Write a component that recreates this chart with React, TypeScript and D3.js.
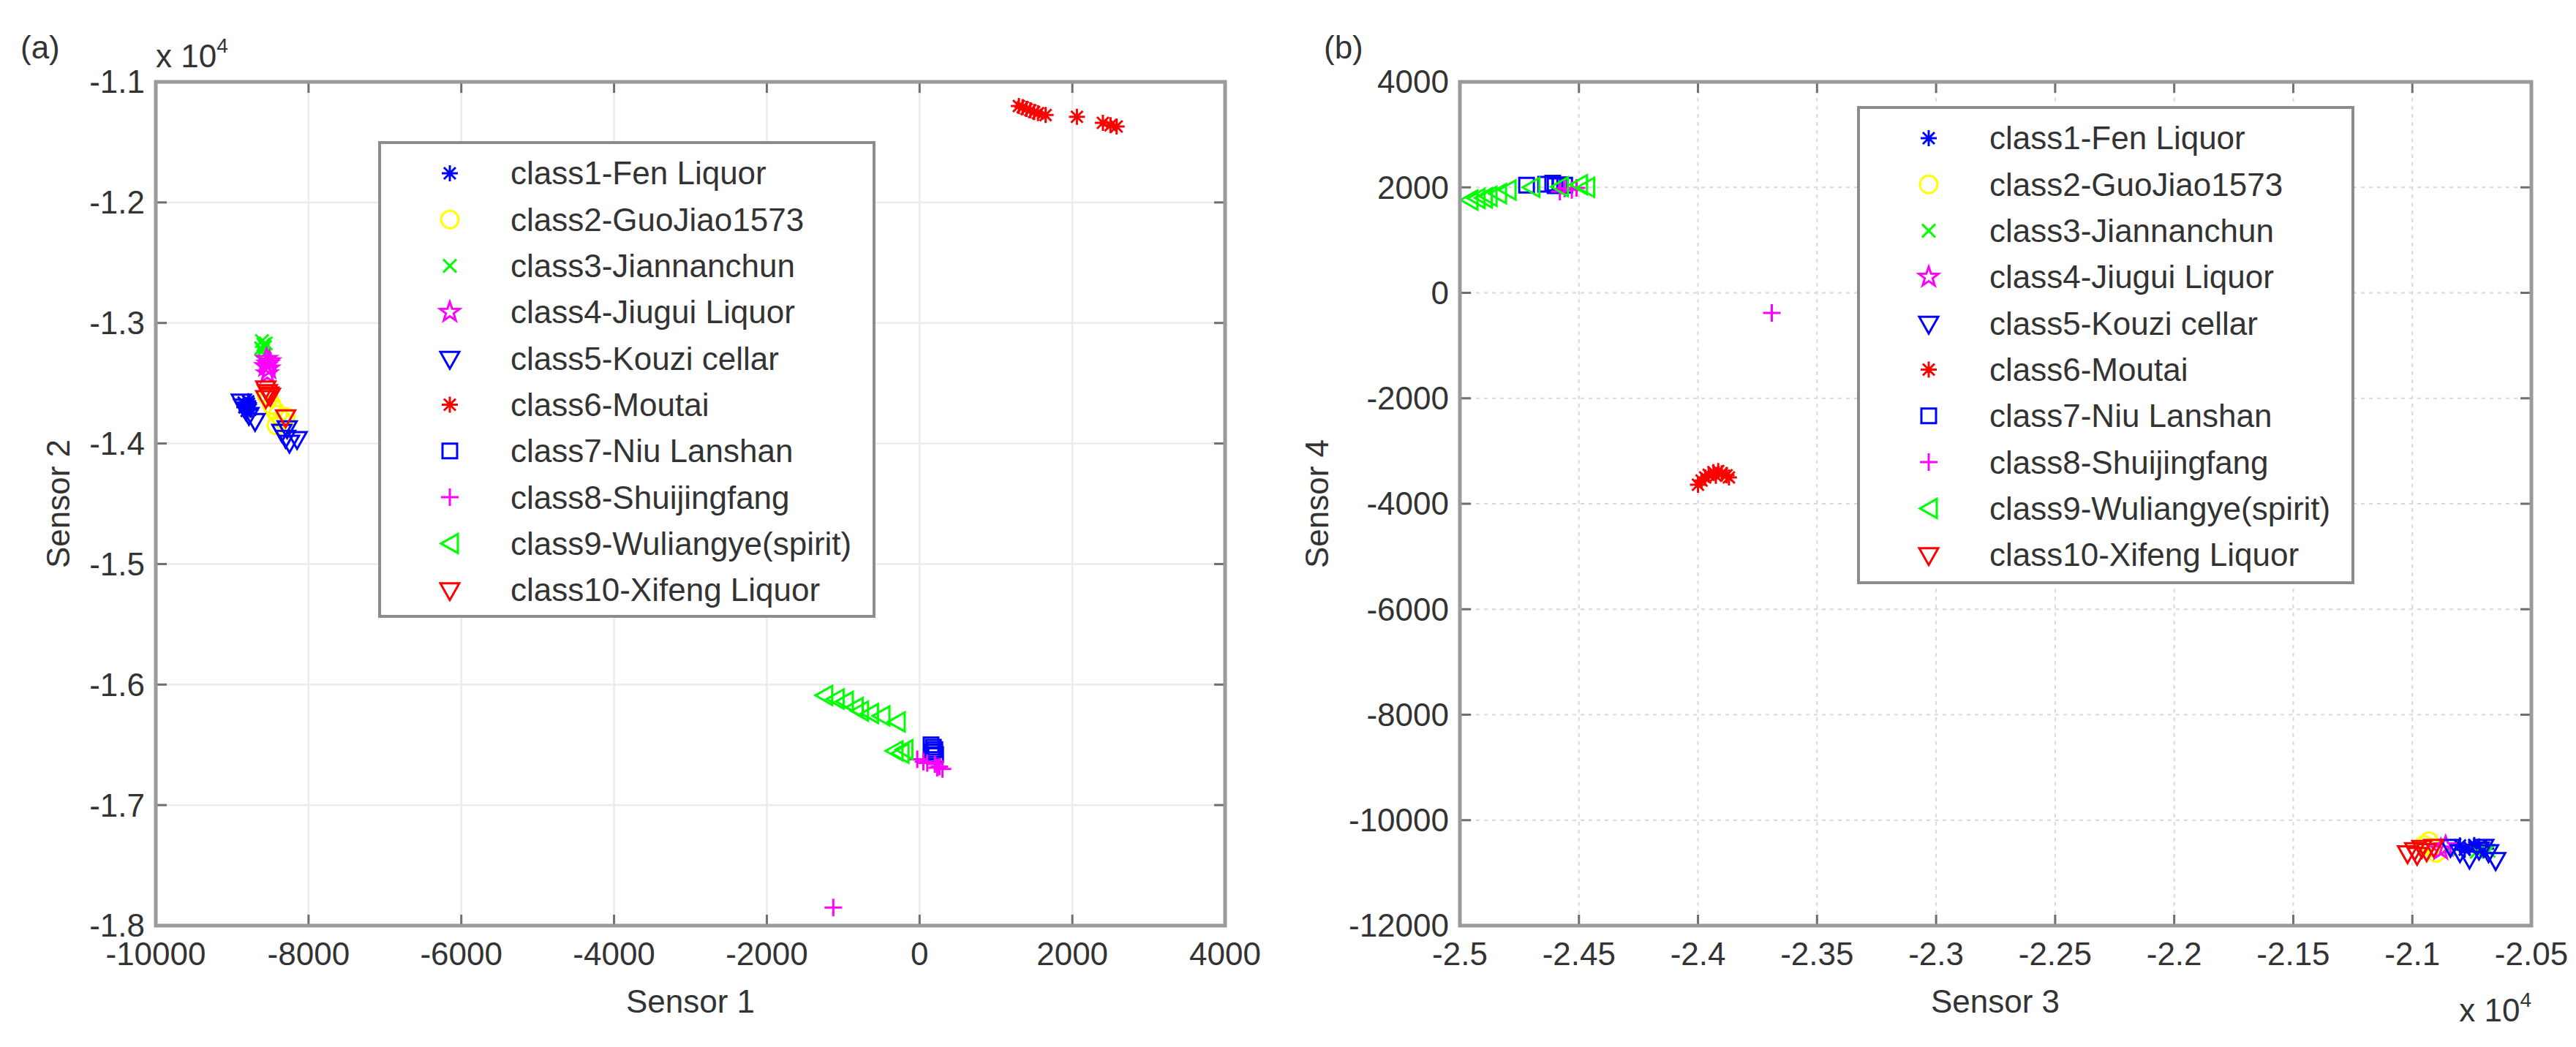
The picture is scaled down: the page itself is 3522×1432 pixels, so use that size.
import React from "react";
import * as d3 from "d3";

// class names and marker styles (MATLAB-like)
const classNames = [
  "class1-Fen Liquor",
  "class2-GuoJiao1573",
  "class3-Jiannanchun",
  "class4-Jiugui Liquor",
  "class5-Kouzi cellar",
  "class6-Moutai",
  "class7-Niu Lanshan",
  "class8-Shuijingfang",
  "class9-Wuliangye(spirit)",
  "class10-Xifeng Liquor",
];
const classMarkers = ["asterisk", "circle", "x", "pentagram", "triDown", "asterisk", "square", "plus", "triLeft", "triDown"];
const classColors = ["#0000ff", "#ffff00", "#00ff00", "#ff00ff", "#0000ff", "#ff0000", "#0000ff", "#ff00ff", "#00ff00", "#ff0000"];

// panel (a): Sensor 1 vs Sensor 2
const sensorA: number[][][] = [
  [[-8850, -13660], [-8820, -13680], [-8800, -13700], [-8780, -13670], [-8760, -13720], [-8840, -13700], [-8790, -13650], [-8810, -13730]],
  [[-8520, -13620], [-8480, -13680], [-8450, -13720], [-8400, -13760], [-8350, -13800], [-8300, -13780], [-8550, -13600], [-8420, -13850]],
  [[-8610, -13150], [-8590, -13180], [-8570, -13200], [-8600, -13230], [-8580, -13260], [-8560, -13170], [-8620, -13210]],
  [[-8550, -13300], [-8530, -13340], [-8520, -13380], [-8540, -13420], [-8560, -13360], [-8510, -13320]],
  [[-8880, -13650], [-8850, -13690], [-8820, -13720], [-8780, -13760], [-8700, -13810], [-8350, -13900], [-8300, -13950], [-8250, -13990], [-8150, -13960], [-8280, -13870]],
  [[1300, -11200], [1350, -11210], [1400, -11225], [1450, -11235], [1500, -11250], [1550, -11260], [1650, -11275], [2060, -11290], [2400, -11340], [2500, -11360], [2580, -11370]],
  [[150, -16500], [180, -16520], [200, -16540], [170, -16560], [210, -16580], [160, -16590]],
  [[-30, -16620], [50, -16640], [100, -16650], [200, -16660], [260, -16680], [300, -16700], [230, -16690], [-1130, -17850]],
  [[-1250, -16090], [-1100, -16120], [-980, -16140], [-850, -16190], [-780, -16220], [-650, -16240], [-500, -16260], [-300, -16310], [-330, -16550], [-250, -16570], [-200, -16540]],
  [[-8560, -13540], [-8540, -13570], [-8520, -13590], [-8560, -13620], [-8500, -13600], [-8300, -13780]],
];

// panel (b): Sensor 3 vs Sensor 4
const sensorB: number[][][] = [
  [[-20800, -10480], [-20760, -10520], [-20720, -10500], [-20690, -10540], [-20780, -10560], [-20740, -10470]],
  [[-20930, -10400], [-20920, -10520], [-20900, -10620], [-20950, -10470]],
  [[-20850, -10550], [-20730, -10600], [-20680, -10580]],
  [[-20880, -10560], [-20860, -10500]],
  [[-20840, -10500], [-20800, -10600], [-20760, -10720], [-20720, -10550], [-20680, -10600], [-20650, -10750], [-20700, -10500]],
  [[-24000, -3640], [-23985, -3560], [-23970, -3500], [-23955, -3450], [-23935, -3400], [-23915, -3380], [-23900, -3420], [-23880, -3460], [-23870, -3500], [-23925, -3470]],
  [[-24720, 2040], [-24640, 2060], [-24610, 2080], [-24580, 2050], [-24560, 2040], [-24600, 2030]],
  [[-24560, 1980], [-24530, 1950], [-24580, 1920], [-24510, 1990], [-23690, -380]],
  [[-24960, 1760], [-24930, 1790], [-24900, 1800], [-24880, 1830], [-24840, 1880], [-24800, 1950], [-24700, 2000], [-24580, 2010], [-24500, 2050], [-24470, 2000]],
  [[-21020, -10620], [-20990, -10560], [-20960, -10520], [-20940, -10580], [-20980, -10650], [-20910, -10500]],
];

const xTicksA = [-10000, -8000, -6000, -4000, -2000, 0, 2000, 4000];
const yTicksA = [-11000, -12000, -13000, -14000, -15000, -16000, -17000, -18000];
const xTicksB = [-25000, -24500, -24000, -23500, -23000, -22500, -22000, -21500, -21000, -20500];
const yTicksB = [4000, 2000, 0, -2000, -4000, -6000, -8000, -10000, -12000];

const FONT = "'Liberation Sans', Arial, Helvetica, sans-serif";
const TEXT = "#333";

const starPath = (() => {
  const pts: string[] = [];
  for (let i = 0; i < 10; i++) {
    const r = i % 2 === 0 ? 14 : 5.6;
    const a = -Math.PI / 2 + (i * Math.PI) / 5;
    pts.push(`${(r * Math.cos(a)).toFixed(2)},${(r * Math.sin(a)).toFixed(2)}`);
  }
  return "M" + pts.join("L") + "Z";
})();

const Marker = ({ kind, color, x, y }: { kind: string; color: string; x: number; y: number }) => {
  const common = { fill: "none", stroke: color, strokeWidth: 3, transform: `translate(${x},${y})` };
  switch (kind) {
    case "asterisk":
      return <path {...common} d="M-11,0H11M0,-11V11M-8,-8L8,8M-8,8L8,-8" />;
    case "circle":
      return <circle {...common} r={12} />;
    case "x":
      return <path {...common} d="M-9,-9L9,9M-9,9L9,-9" />;
    case "pentagram":
      return <path {...common} d={starPath} />;
    case "triDown":
      return <path {...common} d="M-13,-9L13,-9L0,14Z" />;
    case "square":
      return <path {...common} d="M-10,-10H10V10H-10Z" />;
    case "plus":
      return <path {...common} d="M-12,0H12M0,-12V12" />;
    case "triLeft":
      return <path {...common} d="M-12,0L11,-13L11,13Z" />;
    default:
      return null;
  }
};

type PanelProps = {
  box: { left: number; right: number; top: number; bottom: number };
  xDomain: [number, number];
  yDomain: [number, number];
  xTicks: number[];
  yTicks: number[];
  xFmt: (v: number) => string;
  yFmt: (v: number) => string;
  data: number[][][];
  dashedGrid: boolean;
  legend: { x: number; y: number; w: number; h: number };
};

const Panel = ({ box, xDomain, yDomain, xTicks, yTicks, xFmt, yFmt, data, dashedGrid, legend }: PanelProps) => {
  const x = d3.scaleLinear().domain(xDomain).range([box.left, box.right]);
  const y = d3.scaleLinear().domain(yDomain).range([box.bottom, box.top]);
  const gridStyle = dashedGrid
    ? { stroke: "#d9d9d9", strokeWidth: 2, strokeDasharray: "5,6" }
    : { stroke: "#ebebeb", strokeWidth: 2.5 };
  const tickLen = 15;
  const rowGap = 63.3;
  return (
    <g>
      {/* grid */}
      {xTicks.map((t) => (
        <line key={"gx" + t} x1={x(t)} x2={x(t)} y1={box.top} y2={box.bottom} {...gridStyle} />
      ))}
      {yTicks.map((t) => (
        <line key={"gy" + t} x1={box.left} x2={box.right} y1={y(t)} y2={y(t)} {...gridStyle} />
      ))}
      {/* points */}
      {data.map((pts, ci) =>
        pts.map((p, pi) => (
          <Marker key={ci + "-" + pi} kind={classMarkers[ci]} color={classColors[ci]} x={x(p[0])} y={y(p[1])} />
        ))
      )}
      {/* ticks */}
      {xTicks.map((t) => (
        <g key={"tx" + t} stroke="#6f6f6f" strokeWidth={3}>
          <line x1={x(t)} x2={x(t)} y1={box.bottom} y2={box.bottom - tickLen} />
          <line x1={x(t)} x2={x(t)} y1={box.top} y2={box.top + tickLen} />
        </g>
      ))}
      {yTicks.map((t) => (
        <g key={"ty" + t} stroke="#6f6f6f" strokeWidth={3}>
          <line x1={box.left} x2={box.left + tickLen} y1={y(t)} y2={y(t)} />
          <line x1={box.right} x2={box.right - tickLen} y1={y(t)} y2={y(t)} />
        </g>
      ))}
      <rect x={box.left} y={box.top} width={box.right - box.left} height={box.bottom - box.top} fill="none" stroke="#9a9a9a" strokeWidth={5} />
      {/* tick labels */}
      {xTicks.map((t) => (
        <text key={"lx" + t} x={x(t)} y={box.bottom + 54} textAnchor="middle" fontSize={44} fill={TEXT} fontFamily={FONT}>
          {xFmt(t)}
        </text>
      ))}
      {yTicks.map((t) => (
        <text key={"ly" + t} x={box.left - 15} y={y(t)} dy="0.35em" textAnchor="end" fontSize={44} fill={TEXT} fontFamily={FONT}>
          {yFmt(t)}
        </text>
      ))}
      {/* legend */}
      <rect x={legend.x} y={legend.y} width={legend.w} height={legend.h} fill="#fff" stroke="#8c8c8c" strokeWidth={4} />
      {classNames.map((name, i) => {
        const cy = legend.y + 42 + i * rowGap;
        return (
          <g key={name}>
            <Marker kind={classMarkers[i]} color={classColors[i]} x={legend.x + 96} y={cy} />
            <text x={legend.x + 179} y={cy} dy="0.35em" fontSize={44} fill={TEXT} fontFamily={FONT}>
              {name}
            </text>
          </g>
        );
      })}
    </g>
  );
};

const fmtA = (v: number) => String(v);
const fmtE4 = (v: number) => String(+(v / 1e4).toFixed(2));

export default function App() {
  return (
    <svg width={3522} height={1432} style={{ position: "absolute", left: 0, top: 0, background: "#fff" }}>
      <rect width={3522} height={1432} fill="#fff" />
      <Panel
        box={{ left: 213, right: 1675, top: 112, bottom: 1266 }}
        xDomain={[-10000, 4000]}
        yDomain={[-18000, -11000]}
        xTicks={xTicksA}
        yTicks={yTicksA}
        xFmt={fmtA}
        yFmt={fmtE4}
        data={sensorA}
        dashedGrid={false}
        legend={{ x: 519, y: 195, w: 676, h: 648 }}
      />
      <Panel
        box={{ left: 1996, right: 3461, top: 112, bottom: 1266 }}
        xDomain={[-25000, -20500]}
        yDomain={[-12000, 4000]}
        xTicks={xTicksB}
        yTicks={yTicksB}
        xFmt={fmtE4}
        yFmt={fmtA}
        data={sensorB}
        dashedGrid={true}
        legend={{ x: 2541, y: 147, w: 676, h: 650 }}
      />
      {/* panel labels, exponents and axis titles */}
      <g fontFamily={FONT} fill={TEXT} fontSize={44}>
        <text x={28} y={80}>(a)</text>
        <text x={1810} y={80}>(b)</text>
        <text x={213} y={92}>
          x 10<tspan fontSize={28} dy={-20}>4</tspan>
        </text>
        <text x={3461} y={1397} textAnchor="end">
          x 10<tspan fontSize={28} dy={-20}>4</tspan>
        </text>
        <text x={944} y={1385} textAnchor="middle">Sensor 1</text>
        <text x={2728} y={1385} textAnchor="middle">Sensor 3</text>
        <text transform="translate(95,689) rotate(-90)" textAnchor="middle">Sensor 2</text>
        <text transform="translate(1816,689) rotate(-90)" textAnchor="middle">Sensor 4</text>
      </g>
    </svg>
  );
}
